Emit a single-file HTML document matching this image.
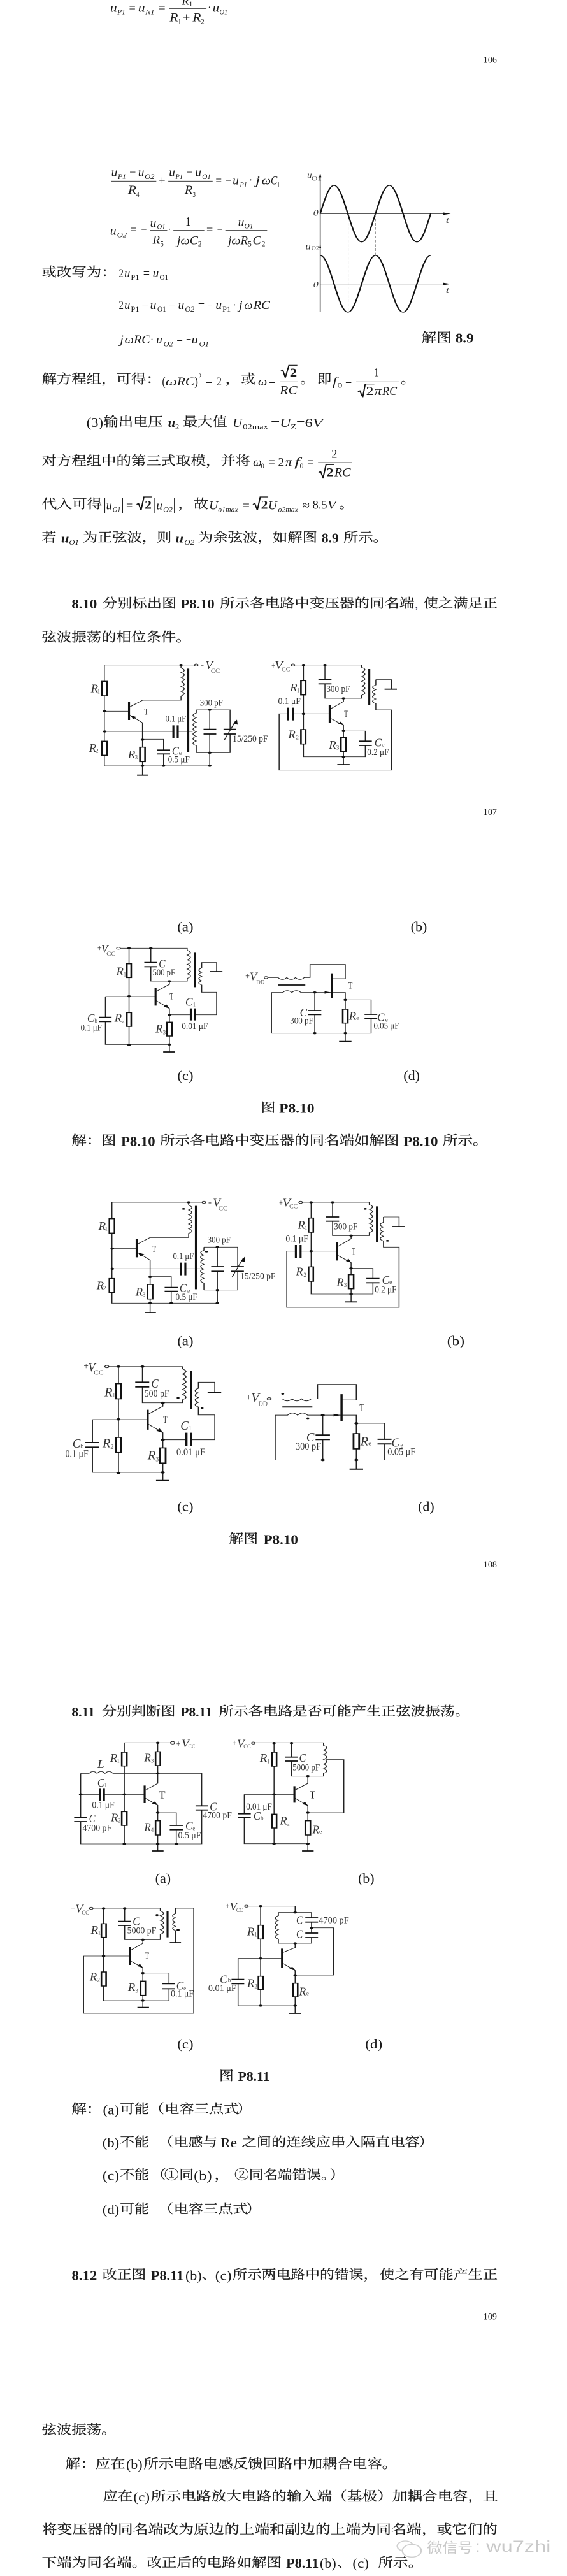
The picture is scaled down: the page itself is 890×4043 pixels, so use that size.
<!DOCTYPE html>
<html lang="zh"><head><meta charset="utf-8"><title>8.10-8.12</title>
<style>
html,body{margin:0;padding:0;background:#fff;width:890px;height:4043px;overflow:hidden}
svg{display:block}
text{font-family:"Liberation Serif","Noto Serif CJK SC",serif;fill:#1a1a1a}
.c{font-size:60px;font-family:"Liberation Serif","Noto Serif CJK SC",serif;stroke:#1a1a1a;stroke-width:.7}
.i{font-size:58px;font-style:italic}
.bi{font-size:58px;font-style:italic;font-weight:bold}
.s{font-size:34px;font-style:italic}
.n{font-size:34px}
.b{font-size:64px;font-weight:bold}
.r{font-size:62px}
.m{font-size:58px}
.p{font-size:44px}
.l{font-size:44px;fill:#333}
.L{font-size:54px;font-style:italic;fill:#333}
.u{font-size:28px;fill:#555}
.w{stroke:#222;stroke-width:2.6;fill:none}
.k{stroke:#111;stroke-width:5.5;fill:none}
.z{stroke:#111;stroke-width:4.5;fill:#fff}
.f{fill:#111;stroke:none}
.q{font-size:60px;font-family:"Liberation Sans","Noto Sans CJK SC",sans-serif;fill:#c9c9c9}
</style></head><body>
<svg xmlns="http://www.w3.org/2000/svg" width="890" height="4043" viewBox="0 0 1560 12129" preserveAspectRatio="none">
<defs>
<g id="ca">
<path class="w" d="M287,71H535M287,71V148M287,216V430M287,496V546H577M288,289H355M498,71V85q18,11 0,22q18,11 0,22q18,11 0,22q18,11 0,22q18,11 0,22q18,11 0,22V237H392L355,270M355,305L392,343V458M392,526V590M392,421H450V472M450,490V546M288,384H477M489,384H530M577,282V374M577,396V546M540,282H633V374M633,396V484H540M540,282v15q-18,11 0,22q-18,11 0,22q-18,11 0,22q-18,11 0,22q-18,11 0,22q-18,11 0,22q-18,11 0,22V484"/>
<path class="k" d="M355,245V330M518,88V480M377,590H408M432,472H468M432,490H468M477,355V415M489,355V415M560,374H595M560,396H595M615,374H650M615,396H650"/>
<path class="w" d="M617,425L648,335"/><path class="f" d="M652,328L654,352L642,348ZM358,307L376,316L366,326Z"/>
<rect class="z" x="280" y="148" width="14" height="68"/><rect class="z" x="280" y="430" width="14" height="66"/><rect class="z" x="385" y="458" width="14" height="68"/>
<circle cx="540" cy="71" r="5" fill="#fff" stroke="#222" stroke-width="2.5"/>
<g class="f"><circle cx="498" cy="71" r="5"/><circle cx="288" cy="289" r="5"/><circle cx="288" cy="384" r="5"/><circle cx="392" cy="423" r="5"/><circle cx="392" cy="546" r="5"/><circle cx="450" cy="546" r="5"/><circle cx="577" cy="546" r="5"/><circle cx="577" cy="282" r="5"/><circle cx="577" cy="484" r="5"/></g>
</g>
<g id="cb">
<path class="w" d="M811,71H995V82q18,11 0,22q18,11 0,22q18,11 0,22q18,11 0,22q18,11 0,22q18,11 0,22V228H894V160M894,140V71M835,71V145M835,212V375M835,443V503H1005V450M1005,430V382H945M1034,140H1077V185M1034,140V165q-18,11 0,22q-18,11 0,22q-18,11 0,22q-18,11 0,22V282H1077V566H768V301H793M806,301H907M907,280L945,243V228M907,320L945,355V412M945,478V540"/>
<path class="k" d="M907,258V345M1016,90V258M1058,185H1092M876,140H912M876,160H912M793,272V332M806,272V332M987,430H1023M987,450H1023M928,540H962"/>
<path class="f" d="M946,356L930,347L938,337Z"/>
<rect class="z" x="828" y="145" width="13" height="67"/><rect class="z" x="828" y="375" width="13" height="68"/><rect class="z" x="938" y="412" width="14" height="66"/>
<circle cx="806" cy="71" r="5" fill="#fff" stroke="#222" stroke-width="2.5"/>
<g class="f"><circle cx="835" cy="71" r="5"/><circle cx="894" cy="71" r="5"/><circle cx="835" cy="301" r="5"/><circle cx="945" cy="228" r="5"/><circle cx="945" cy="382" r="5"/><circle cx="945" cy="503" r="5"/></g>
</g>
<g id="cc">
<path class="w" d="M331,385H515V395q18,11 0,22q18,11 0,22q18,11 0,22q18,11 0,22q18,11 0,22q18,11 0,22V540H415V472M415,452V385M355,385V458M355,523V688M355,753V840M290,612H428M290,612V710M290,730V838H466M428,590L466,555V540M428,630L466,668V733M466,798V873M466,698H525M537,698H596V592H555V558q-16,-10 0,-20q-16,-10 0,-20q-16,-10 0,-20q-16,-10 0,-20V452H596V495"/>
<path class="k" d="M428,570V655M537,403V568M578,495H612M397,452H432M397,472H432M272,710H307M272,730H307M525,668V725M537,668V725M449,873H482"/>
<path class="f" d="M467,669L450,660L458,650Z"/>
<rect class="z" x="349" y="458" width="12" height="65"/><rect class="z" x="349" y="688" width="12" height="65"/><rect class="z" x="459" y="733" width="14" height="65"/>
<circle cx="326" cy="385" r="5" fill="#fff" stroke="#222" stroke-width="2.5"/>
<g class="f"><circle cx="355" cy="385" r="5"/><circle cx="415" cy="385" r="5"/><circle cx="466" cy="540" r="5"/><circle cx="355" cy="611" r="5"/><circle cx="466" cy="698" r="5"/><circle cx="355" cy="840" r="5"/><circle cx="466" cy="838" r="5"/></g>
</g>
<g id="cd">
<path class="w" d="M737,523H765q12,18 24,0q12,18 24,0q12,18 24,0H853V461H950V528H913M747,785V593H778q12,-18 25,0q12,-18 25,0H950V672M950,737V824M950,628H1021V696M1021,716V785H747M866,593V678M866,697V785"/>
<path class="k" d="M913,503V618M765,558H840M933,824H967M848,678H884M848,697H884M1003,696H1038M1003,716H1038"/>
<path class="f" d="M893,587L911,593L893,599Z"/>
<rect class="z" x="943" y="672" width="14" height="65"/>
<circle cx="732" cy="523" r="5" fill="#fff" stroke="#222" stroke-width="2.5"/>
<g class="f"><circle cx="866" cy="593" r="5"/><circle cx="950" cy="628" r="5"/><circle cx="866" cy="785" r="5"/><circle cx="950" cy="785" r="5"/></g>
</g>
</defs>

<!-- crop 1 -->
<g>
<text x="303" y="55" textLength="19" lengthAdjust="spacingAndGlyphs" class="i">u</text>
<text x="323" y="68" textLength="22" lengthAdjust="spacingAndGlyphs" class="s">P1</text>
<text x="355" y="55" textLength="18" lengthAdjust="spacingAndGlyphs" class="m">=</text>
<text x="380" y="55" textLength="19" lengthAdjust="spacingAndGlyphs" class="i">u</text>
<text x="400" y="68" textLength="25" lengthAdjust="spacingAndGlyphs" class="s">N1</text>
<text x="436" y="55" textLength="19" lengthAdjust="spacingAndGlyphs" class="m">=</text>
<path class="w" d="M465,40H568M305,853H430M463,853H585"/>
<text x="500" y="22" textLength="20" lengthAdjust="spacingAndGlyphs" class="i">R</text>
<text x="520" y="30" textLength="10" lengthAdjust="spacingAndGlyphs" class="n">1</text>
<text x="467" y="100" textLength="23" lengthAdjust="spacingAndGlyphs" class="i">R</text>
<text x="490" y="112" textLength="8" lengthAdjust="spacingAndGlyphs" class="n">1</text>
<text x="503" y="100" textLength="20" lengthAdjust="spacingAndGlyphs" class="m">+</text>
<text x="530" y="100" textLength="23" lengthAdjust="spacingAndGlyphs" class="i">R</text>
<text x="553" y="112" textLength="9" lengthAdjust="spacingAndGlyphs" class="n">2</text>
<text x="572" y="52" textLength="8" lengthAdjust="spacingAndGlyphs" class="m">·</text>
<text x="585" y="55" textLength="18" lengthAdjust="spacingAndGlyphs" class="i">u</text>
<text x="604" y="68" textLength="22" lengthAdjust="spacingAndGlyphs" class="s">O1</text>
<text x="1330" y="295" textLength="37" lengthAdjust="spacingAndGlyphs" class="p">106</text>

<text x="306" y="830" textLength="17" lengthAdjust="spacingAndGlyphs" class="i">u</text>
<text x="324" y="843" textLength="23" lengthAdjust="spacingAndGlyphs" class="s">P1</text>
<text x="356" y="830" textLength="18" lengthAdjust="spacingAndGlyphs" class="m">−</text>
<text x="380" y="830" textLength="17" lengthAdjust="spacingAndGlyphs" class="i">u</text>
<text x="398" y="843" textLength="27" lengthAdjust="spacingAndGlyphs" class="s">O2</text>
<text x="352" y="912" textLength="23" lengthAdjust="spacingAndGlyphs" class="i">R</text>
<text x="375" y="927" textLength="8" lengthAdjust="spacingAndGlyphs" class="n">4</text>
<text x="437" y="868" textLength="18" lengthAdjust="spacingAndGlyphs" class="m">+</text>
<text x="465" y="830" textLength="17" lengthAdjust="spacingAndGlyphs" class="i">u</text>
<text x="483" y="843" textLength="20" lengthAdjust="spacingAndGlyphs" class="s">P1</text>
<text x="512" y="830" textLength="18" lengthAdjust="spacingAndGlyphs" class="m">−</text>
<text x="537" y="830" textLength="17" lengthAdjust="spacingAndGlyphs" class="i">u</text>
<text x="556" y="843" textLength="24" lengthAdjust="spacingAndGlyphs" class="s">O1</text>
<text x="508" y="912" textLength="22" lengthAdjust="spacingAndGlyphs" class="i">R</text>
<text x="530" y="927" textLength="8" lengthAdjust="spacingAndGlyphs" class="n">3</text>
<text x="593" y="868" textLength="17" lengthAdjust="spacingAndGlyphs" class="m">=</text>
<text x="620" y="868" textLength="17" lengthAdjust="spacingAndGlyphs" class="m">−</text>
<text x="640" y="868" textLength="17" lengthAdjust="spacingAndGlyphs" class="i">u</text>
<text x="660" y="880" textLength="20" lengthAdjust="spacingAndGlyphs" class="s">P1</text>
<text x="686" y="866" textLength="8" lengthAdjust="spacingAndGlyphs" class="m">·</text>
<text x="703" y="868" textLength="12" lengthAdjust="spacingAndGlyphs" class="i">j</text>
<text x="720" y="868" textLength="25" lengthAdjust="spacingAndGlyphs" class="i">ω</text>
<text x="745" y="868" textLength="18" lengthAdjust="spacingAndGlyphs" class="i">C</text>
<text x="762" y="880" textLength="8" lengthAdjust="spacingAndGlyphs" class="n">1</text>

<text x="845" y="838" textLength="13" lengthAdjust="spacingAndGlyphs" class="L" style="font-size:44px">u</text>
<text x="857" y="850" textLength="28" lengthAdjust="spacingAndGlyphs" class="u">O1</text>
<text x="862" y="1016" textLength="14" lengthAdjust="spacingAndGlyphs" class="L" style="font-size:40px">0</text>
<path class="w" d="M881,820V1470M881,1006H1225M881,1337H1225"/>
<path class="f" d="M881,815L884,835H878ZM1219,1000L1240,1006L1219,1012ZM1219,1331L1240,1337L1219,1343ZM881,1148L884,1170H878Z"/>
<path d="M881,1006c12.7,-69.6 24.2,-133 38,-133c13.8,0 25.3,63.4 38,133c12.7,69.6 24.2,133 38,133c13.8,0 25.3,-63.4 38,-133c12.7,-69.6 24.2,-133 38,-133c13.8,0 25.3,63.4 38,133c12.7,69.6 24.2,133 38,133c13.8,0 25.3,-63.4 38,-133" fill="none" stroke="#111" stroke-width="4"/>
<path d="M881,1203c13.8,0 25.3,63.4 38,134c12.7,69.6 24.2,133 38,133c13.8,0 25.3,-63.4 38,-133c12.7,-69.6 24.2,-134 38,-134c13.8,0 25.3,63.4 38,134c12.7,69.6 24.2,133 38,133c13.8,0 25.3,-63.4 38,-133c12.7,-69.6 24.2,-134 38,-134" fill="none" stroke="#111" stroke-width="4"/>
<path d="M958,1010V1470M1033,1010V1203" stroke="#888" stroke-width="1.8" stroke-dasharray="12 8" fill="none"/>
</g>

<!-- crop 2 -->
<g transform="translate(0,1020)">
<text x="1226" y="30" textLength="10" lengthAdjust="spacingAndGlyphs" class="L" style="font-size:40px">t</text>
<text x="303" y="85" textLength="17" lengthAdjust="spacingAndGlyphs" class="i">u</text>
<text x="322" y="97" textLength="27" lengthAdjust="spacingAndGlyphs" class="s">O2</text>
<text x="358" y="80" textLength="18" lengthAdjust="spacingAndGlyphs" class="m">=</text>
<text x="388" y="80" textLength="16" lengthAdjust="spacingAndGlyphs" class="m">−</text>
<path class="w" d="M413,65H460M477,65H562M620,65H735"/>
<text x="413" y="48" textLength="17" lengthAdjust="spacingAndGlyphs" class="i">u</text>
<text x="432" y="58" textLength="23" lengthAdjust="spacingAndGlyphs" class="s">O1</text>
<text x="420" y="128" textLength="20" lengthAdjust="spacingAndGlyphs" class="i">R</text>
<text x="441" y="140" textLength="9" lengthAdjust="spacingAndGlyphs" class="n">5</text>
<text x="462" y="78" textLength="8" lengthAdjust="spacingAndGlyphs" class="m">·</text>
<text x="510" y="42" textLength="15" lengthAdjust="spacingAndGlyphs" class="b" style="font-size:60px;font-weight:normal">1</text>
<text x="487" y="130" textLength="10" lengthAdjust="spacingAndGlyphs" class="i">j</text>
<text x="497" y="130" textLength="25" lengthAdjust="spacingAndGlyphs" class="i">ω</text>
<text x="522" y="130" textLength="23" lengthAdjust="spacingAndGlyphs" class="i">C</text>
<text x="545" y="140" textLength="10" lengthAdjust="spacingAndGlyphs" class="n">2</text>
<text x="568" y="80" textLength="18" lengthAdjust="spacingAndGlyphs" class="m">=</text>
<text x="597" y="80" textLength="16" lengthAdjust="spacingAndGlyphs" class="m">−</text>
<text x="655" y="45" textLength="17" lengthAdjust="spacingAndGlyphs" class="i">u</text>
<text x="672" y="55" textLength="25" lengthAdjust="spacingAndGlyphs" class="s">O1</text>
<text x="628" y="130" textLength="9" lengthAdjust="spacingAndGlyphs" class="i">j</text>
<text x="637" y="130" textLength="25" lengthAdjust="spacingAndGlyphs" class="i">ω</text>
<text x="662" y="130" textLength="20" lengthAdjust="spacingAndGlyphs" class="i">R</text>
<text x="682" y="140" textLength="10" lengthAdjust="spacingAndGlyphs" class="n">5</text>
<text x="695" y="130" textLength="23" lengthAdjust="spacingAndGlyphs" class="i">C</text>
<text x="720" y="140" textLength="10" lengthAdjust="spacingAndGlyphs" class="n">2</text>
<text x="840" y="155" textLength="15" lengthAdjust="spacingAndGlyphs" class="L" style="font-size:44px">u</text>
<text x="857" y="157" textLength="21" lengthAdjust="spacingAndGlyphs" class="u">O2</text>
<text x="862" y="333" textLength="14" lengthAdjust="spacingAndGlyphs" class="L" style="font-size:40px">0</text>
<text x="1226" y="360" textLength="10" lengthAdjust="spacingAndGlyphs" class="L" style="font-size:40px">t</text>

<text x="115" y="280" textLength="205" lengthAdjust="spacingAndGlyphs" class="c">或改写为：</text>
<text x="327" y="285" textLength="13" lengthAdjust="spacingAndGlyphs" class="m">2</text>
<text x="342" y="285" textLength="16" lengthAdjust="spacingAndGlyphs" class="i">u</text>
<text x="360" y="297" textLength="23" lengthAdjust="spacingAndGlyphs" class="n">P1</text>
<text x="394" y="285" textLength="18" lengthAdjust="spacingAndGlyphs" class="m">=</text>
<text x="420" y="285" textLength="17" lengthAdjust="spacingAndGlyphs" class="i">u</text>
<text x="439" y="297" textLength="24" lengthAdjust="spacingAndGlyphs" class="n">O1</text>

<text x="327" y="435" textLength="13" lengthAdjust="spacingAndGlyphs" class="m">2</text>
<text x="342" y="435" textLength="16" lengthAdjust="spacingAndGlyphs" class="i">u</text>
<text x="360" y="447" textLength="23" lengthAdjust="spacingAndGlyphs" class="n">P1</text>
<text x="390" y="435" textLength="18" lengthAdjust="spacingAndGlyphs" class="m">−</text>
<text x="413" y="435" textLength="17" lengthAdjust="spacingAndGlyphs" class="i">u</text>
<text x="433" y="447" textLength="24" lengthAdjust="spacingAndGlyphs" class="n">O1</text>
<text x="465" y="435" textLength="18" lengthAdjust="spacingAndGlyphs" class="m">−</text>
<text x="490" y="435" textLength="17" lengthAdjust="spacingAndGlyphs" class="i">u</text>
<text x="509" y="447" textLength="26" lengthAdjust="spacingAndGlyphs" class="s">O2</text>
<text x="545" y="435" textLength="18" lengthAdjust="spacingAndGlyphs" class="m">=</text>
<text x="570" y="435" textLength="15" lengthAdjust="spacingAndGlyphs" class="m">−</text>
<text x="593" y="435" textLength="17" lengthAdjust="spacingAndGlyphs" class="i">u</text>
<text x="612" y="447" textLength="23" lengthAdjust="spacingAndGlyphs" class="n">P1</text>
<text x="641" y="433" textLength="8" lengthAdjust="spacingAndGlyphs" class="m">·</text>
<text x="657" y="435" textLength="10" lengthAdjust="spacingAndGlyphs" class="i">j</text>
<text x="672" y="435" textLength="23" lengthAdjust="spacingAndGlyphs" class="i">ω</text>
<text x="697" y="435" textLength="46" lengthAdjust="spacingAndGlyphs" class="i">RC</text>

<text x="330" y="597" textLength="10" lengthAdjust="spacingAndGlyphs" class="i">j</text>
<text x="343" y="597" textLength="25" lengthAdjust="spacingAndGlyphs" class="i">ω</text>
<text x="368" y="597" textLength="45" lengthAdjust="spacingAndGlyphs" class="i">RC</text>
<text x="414" y="595" textLength="8" lengthAdjust="spacingAndGlyphs" class="m">·</text>
<text x="430" y="597" textLength="17" lengthAdjust="spacingAndGlyphs" class="i">u</text>
<text x="450" y="610" textLength="26" lengthAdjust="spacingAndGlyphs" class="s">O2</text>
<text x="486" y="597" textLength="17" lengthAdjust="spacingAndGlyphs" class="m">=</text>
<text x="512" y="597" textLength="14" lengthAdjust="spacingAndGlyphs" class="m">−</text>
<text x="527" y="597" textLength="18" lengthAdjust="spacingAndGlyphs" class="i">u</text>
<text x="548" y="610" textLength="27" lengthAdjust="spacingAndGlyphs" class="s">O1</text>

<text x="1160" y="590" textLength="82" lengthAdjust="spacingAndGlyphs" class="c">解图</text>
<text x="1253" y="593" textLength="50" lengthAdjust="spacingAndGlyphs" class="b">8.9</text>

<text x="115" y="785" textLength="328" lengthAdjust="spacingAndGlyphs" class="c">解方程组，可得：</text>
<text x="446" y="795" textLength="9" lengthAdjust="spacingAndGlyphs" class="m">(</text>
<text x="455" y="795" textLength="32" lengthAdjust="spacingAndGlyphs" class="i">ω</text>
<text x="487" y="795" textLength="48" lengthAdjust="spacingAndGlyphs" class="i">RC</text>
<text x="535" y="795" textLength="10" lengthAdjust="spacingAndGlyphs" class="m">)</text>
<text x="546" y="762" textLength="8" lengthAdjust="spacingAndGlyphs" class="n">2</text>
<text x="565" y="795" textLength="20" lengthAdjust="spacingAndGlyphs" class="m">=</text>
<text x="595" y="795" textLength="15" lengthAdjust="spacingAndGlyphs" class="m">2</text>
<text x="620" y="785" textLength="40" lengthAdjust="spacingAndGlyphs" class="c">，</text>
<text x="663" y="785" textLength="40" lengthAdjust="spacingAndGlyphs" class="c">或</text>
<text x="710" y="795" textLength="25" lengthAdjust="spacingAndGlyphs" class="i">ω</text>
<text x="740" y="795" textLength="18" lengthAdjust="spacingAndGlyphs" class="m">=</text>
<path d="M772,728L778,722L785,758L795,700H818" fill="none" stroke="#111" stroke-width="3.5"/>
<text x="797" y="753" textLength="20" lengthAdjust="spacingAndGlyphs" class="b" style="font-size:58px">2</text>
<path class="w" d="M770,778H820M980,778H1097"/>
<text x="770" y="835" textLength="48" lengthAdjust="spacingAndGlyphs" class="i">RC</text>
<text x="826" y="785" textLength="40" lengthAdjust="spacingAndGlyphs" class="c">。</text>
<text x="872" y="785" textLength="40" lengthAdjust="spacingAndGlyphs" class="c">即</text>
<text x="915" y="795" textLength="12" lengthAdjust="spacingAndGlyphs" class="i">f</text>
<text x="928" y="805" textLength="14" lengthAdjust="spacingAndGlyphs" class="n">0</text>
<text x="950" y="795" textLength="18" lengthAdjust="spacingAndGlyphs" class="m">=</text>
<text x="1028" y="752" textLength="15" lengthAdjust="spacingAndGlyphs" class="m">1</text>
<path d="M985,825L990,820L998,850L1005,788H1030" fill="none" stroke="#111" stroke-width="3.5"/>
<text x="1007" y="840" textLength="21" lengthAdjust="spacingAndGlyphs" class="m">2</text>
<text x="1030" y="840" textLength="20" lengthAdjust="spacingAndGlyphs" class="i">π</text>
<text x="1052" y="840" textLength="40" lengthAdjust="spacingAndGlyphs" class="i">RC</text>
<text x="1102" y="785" textLength="40" lengthAdjust="spacingAndGlyphs" class="c">。</text>

<text x="238" y="990" textLength="46" lengthAdjust="spacingAndGlyphs" class="r">(3)</text>
<text x="285" y="985" textLength="163" lengthAdjust="spacingAndGlyphs" class="c">输出电压</text>
<text x="462" y="990" textLength="20" lengthAdjust="spacingAndGlyphs" class="bi">u</text>
<text x="482" y="1000" textLength="11" lengthAdjust="spacingAndGlyphs" class="n">2</text>
<text x="503" y="985" textLength="122" lengthAdjust="spacingAndGlyphs" class="c">最大值</text>
<text x="640" y="990" textLength="26" lengthAdjust="spacingAndGlyphs" class="i">U</text>
<text x="668" y="1000" textLength="70" lengthAdjust="spacingAndGlyphs" class="n">02max</text>
<text x="745" y="990" textLength="25" lengthAdjust="spacingAndGlyphs" class="m">=</text>
<text x="770" y="990" textLength="30" lengthAdjust="spacingAndGlyphs" class="i">U</text>
<text x="800" y="1000" textLength="15" lengthAdjust="spacingAndGlyphs" class="n">Z</text>
<text x="815" y="990" textLength="45" lengthAdjust="spacingAndGlyphs" class="m">=6</text>
<text x="860" y="990" textLength="28" lengthAdjust="spacingAndGlyphs" class="i">V</text>
</g>

<!-- crop 3 -->
<g transform="translate(0,2040)">
<text x="115" y="150" textLength="574" lengthAdjust="spacingAndGlyphs" class="c">对方程组中的第三式取模，并将</text>
<text x="696" y="155" textLength="24" lengthAdjust="spacingAndGlyphs" class="i">ω</text>
<text x="718" y="165" textLength="9" lengthAdjust="spacingAndGlyphs" class="n">0</text>
<text x="738" y="155" textLength="19" lengthAdjust="spacingAndGlyphs" class="m">=</text>
<text x="765" y="155" textLength="17" lengthAdjust="spacingAndGlyphs" class="m">2</text>
<text x="785" y="155" textLength="18" lengthAdjust="spacingAndGlyphs" class="i">π</text>
<text x="810" y="155" textLength="15" lengthAdjust="spacingAndGlyphs" class="i">f</text>
<text x="825" y="165" textLength="10" lengthAdjust="spacingAndGlyphs" class="n">0</text>
<text x="845" y="155" textLength="17" lengthAdjust="spacingAndGlyphs" class="m">=</text>
<text x="912" y="115" textLength="16" lengthAdjust="spacingAndGlyphs" class="m">2</text>
<path class="w" d="M875,138H968"/>
<path d="M877,185L882,180L889,210L897,148H920" fill="none" stroke="#111" stroke-width="3.5"/>
<text x="898" y="203" textLength="20" lengthAdjust="spacingAndGlyphs" class="b" style="font-size:58px">2</text>
<text x="920" y="203" textLength="45" lengthAdjust="spacingAndGlyphs" class="i">RC</text>

<text x="115" y="353" textLength="166" lengthAdjust="spacingAndGlyphs" class="c">代入可得</text>
<path class="w" d="M288,305V375M337,305V375M424,305V375M480,305V375"/>
<text x="292" y="358" textLength="16" lengthAdjust="spacingAndGlyphs" class="i">u</text>
<text x="310" y="370" textLength="22" lengthAdjust="spacingAndGlyphs" class="s">O1</text>
<text x="347" y="358" textLength="18" lengthAdjust="spacingAndGlyphs" class="m">=</text>
<path d="M376,335L381,330L388,362L396,300H418" fill="none" stroke="#111" stroke-width="3.5"/>
<text x="398" y="355" textLength="19" lengthAdjust="spacingAndGlyphs" class="b" style="font-size:58px">2</text>
<text x="430" y="358" textLength="17" lengthAdjust="spacingAndGlyphs" class="i">u</text>
<text x="449" y="370" textLength="26" lengthAdjust="spacingAndGlyphs" class="s">O2</text>
<text x="490" y="353" textLength="40" lengthAdjust="spacingAndGlyphs" class="c">，</text>
<text x="533" y="353" textLength="40" lengthAdjust="spacingAndGlyphs" class="c">故</text>
<text x="575" y="358" textLength="25" lengthAdjust="spacingAndGlyphs" class="i">U</text>
<text x="600" y="370" textLength="55" lengthAdjust="spacingAndGlyphs" class="s">o1max</text>
<text x="667" y="358" textLength="20" lengthAdjust="spacingAndGlyphs" class="m">=</text>
<path d="M696,335L701,330L708,362L716,300H738" fill="none" stroke="#111" stroke-width="3.5"/>
<text x="718" y="355" textLength="19" lengthAdjust="spacingAndGlyphs" class="b" style="font-size:58px">2</text>
<text x="738" y="358" textLength="24" lengthAdjust="spacingAndGlyphs" class="i">U</text>
<text x="765" y="370" textLength="55" lengthAdjust="spacingAndGlyphs" class="s">o2max</text>
<text x="832" y="358" textLength="20" lengthAdjust="spacingAndGlyphs" class="m">≈</text>
<text x="860" y="355" textLength="40" lengthAdjust="spacingAndGlyphs" class="m">8.5</text>
<text x="900" y="355" textLength="25" lengthAdjust="spacingAndGlyphs" class="i">V</text>
<text x="933" y="353" textLength="40" lengthAdjust="spacingAndGlyphs" class="c">。</text>

<text x="115" y="510" textLength="40" lengthAdjust="spacingAndGlyphs" class="c">若</text>
<text x="168" y="515" textLength="22" lengthAdjust="spacingAndGlyphs" class="bi">u</text>
<text x="190" y="525" textLength="27" lengthAdjust="spacingAndGlyphs" class="s">O1</text>
<text x="228" y="510" textLength="244" lengthAdjust="spacingAndGlyphs" class="c">为正弦波，则</text>
<text x="483" y="515" textLength="22" lengthAdjust="spacingAndGlyphs" class="bi">u</text>
<text x="507" y="525" textLength="28" lengthAdjust="spacingAndGlyphs" class="s">O2</text>
<text x="545" y="510" textLength="328" lengthAdjust="spacingAndGlyphs" class="c">为余弦波，如解图</text>
<text x="885" y="515" textLength="47" lengthAdjust="spacingAndGlyphs" class="b">8.9</text>
<text x="945" y="510" textLength="122" lengthAdjust="spacingAndGlyphs" class="c">所示。</text>

<text x="197" y="825" textLength="70" lengthAdjust="spacingAndGlyphs" class="b">8.10</text>
<text x="282" y="820" textLength="204" lengthAdjust="spacingAndGlyphs" class="c">分别标出图</text>
<text x="497" y="825" textLength="93" lengthAdjust="spacingAndGlyphs" class="b">P8.10</text>
<text x="605" y="820" textLength="535" lengthAdjust="spacingAndGlyphs" class="c">所示各电路中变压器的同名端</text>
<text x="1141" y="825" textLength="10" lengthAdjust="spacingAndGlyphs" class="m" style="fill:#335">,</text>
<text x="1165" y="820" textLength="204" lengthAdjust="spacingAndGlyphs" class="c">使之满足正</text>
<text x="115" y="980" textLength="410" lengthAdjust="spacingAndGlyphs" class="c">弦波振荡的相位条件。</text>
</g>

<!-- crop 4 circuit a b -->
<g transform="translate(0,3060)">
<use href="#ca"/><use href="#cb"/>
<text x="1330" y="777" textLength="37" lengthAdjust="spacingAndGlyphs" class="p">107</text>
</g>
<g id="la" transform="translate(0,3060)">
<text x="552" y="85" textLength="9" lengthAdjust="spacingAndGlyphs" class="l">-</text>
<text x="565" y="90" textLength="20" lengthAdjust="spacingAndGlyphs" class="L">V</text>
<text x="580" y="108" textLength="25" lengthAdjust="spacingAndGlyphs" class="u">CC</text>
<text x="250" y="200" textLength="20" lengthAdjust="spacingAndGlyphs" class="L">R</text><text x="268" y="205" textLength="7" lengthAdjust="spacingAndGlyphs" class="u">1</text>
<text x="245" y="480" textLength="20" lengthAdjust="spacingAndGlyphs" class="L">R</text><text x="263" y="485" textLength="8" lengthAdjust="spacingAndGlyphs" class="u">2</text>
<text x="352" y="510" textLength="20" lengthAdjust="spacingAndGlyphs" class="L">R</text><text x="371" y="515" textLength="8" lengthAdjust="spacingAndGlyphs" class="u">3</text>
<text x="397" y="305" textLength="11" lengthAdjust="spacingAndGlyphs" class="l">T</text>
<text x="455" y="338" textLength="57" lengthAdjust="spacingAndGlyphs" class="l">0.1 μF</text>
<text x="473" y="493" textLength="19" lengthAdjust="spacingAndGlyphs" class="L">C</text><text x="492" y="495" textLength="10" lengthAdjust="spacingAndGlyphs" class="u">e</text>
<text x="462" y="530" textLength="60" lengthAdjust="spacingAndGlyphs" class="l">0.5 μF</text>
<text x="550" y="262" textLength="63" lengthAdjust="spacingAndGlyphs" class="l">300 pF</text>
<text x="640" y="432" textLength="97" lengthAdjust="spacingAndGlyphs" class="l">15/250 pF</text>
<text x="747" y="88" textLength="10" lengthAdjust="spacingAndGlyphs" class="l">+</text>
<text x="756" y="90" textLength="22" lengthAdjust="spacingAndGlyphs" class="L">V</text>
<text x="775" y="100" textLength="23" lengthAdjust="spacingAndGlyphs" class="u">CC</text>
<text x="798" y="195" textLength="20" lengthAdjust="spacingAndGlyphs" class="L">R</text><text x="817" y="200" textLength="7" lengthAdjust="spacingAndGlyphs" class="u">1</text>
<text x="793" y="415" textLength="20" lengthAdjust="spacingAndGlyphs" class="L">R</text><text x="814" y="422" textLength="8" lengthAdjust="spacingAndGlyphs" class="u">2</text>
<text x="905" y="465" textLength="20" lengthAdjust="spacingAndGlyphs" class="L">R</text><text x="925" y="470" textLength="8" lengthAdjust="spacingAndGlyphs" class="u">3</text>
<text x="947" y="315" textLength="10" lengthAdjust="spacingAndGlyphs" class="l">T</text>
<text x="765" y="255" textLength="62" lengthAdjust="spacingAndGlyphs" class="l">0.1 μF</text>
<text x="898" y="198" textLength="65" lengthAdjust="spacingAndGlyphs" class="l">300 pF</text>
<text x="1030" y="455" textLength="20" lengthAdjust="spacingAndGlyphs" class="L">C</text><text x="1050" y="455" textLength="8" lengthAdjust="spacingAndGlyphs" class="u">e</text>
<text x="1010" y="495" textLength="60" lengthAdjust="spacingAndGlyphs" class="l">0.2 μF</text>
</g>

<!-- crop 5 circuit c d -->
<g transform="translate(0,4080)">
<text x="488" y="305" textLength="44" lengthAdjust="spacingAndGlyphs" class="r">(a)</text>
<text x="1130" y="305" textLength="45" lengthAdjust="spacingAndGlyphs" class="r">(b)</text>
<use href="#cc"/><use href="#cd"/>
<text x="488" y="1005" textLength="44" lengthAdjust="spacingAndGlyphs" class="r">(c)</text>
<text x="1110" y="1005" textLength="45" lengthAdjust="spacingAndGlyphs" class="r">(d)</text>
<text x="268" y="397" textLength="12" lengthAdjust="spacingAndGlyphs" class="l">+</text>
<text x="279" y="405" textLength="18" lengthAdjust="spacingAndGlyphs" class="L">V</text><text x="293" y="420" textLength="25" lengthAdjust="spacingAndGlyphs" class="u">CC</text>
<text x="320" y="512" textLength="20" lengthAdjust="spacingAndGlyphs" class="L">R</text><text x="340" y="517" textLength="7" lengthAdjust="spacingAndGlyphs" class="u">1</text>
<text x="315" y="730" textLength="20" lengthAdjust="spacingAndGlyphs" class="L">R</text><text x="335" y="737" textLength="8" lengthAdjust="spacingAndGlyphs" class="u">2</text>
<text x="428" y="782" textLength="20" lengthAdjust="spacingAndGlyphs" class="L">R</text><text x="448" y="790" textLength="8" lengthAdjust="spacingAndGlyphs" class="u">3</text>
<text x="437" y="475" textLength="18" lengthAdjust="spacingAndGlyphs" class="L">C</text>
<text x="420" y="513" textLength="62" lengthAdjust="spacingAndGlyphs" class="l">500 pF</text>
<text x="467" y="625" textLength="10" lengthAdjust="spacingAndGlyphs" class="l">T</text>
<text x="510" y="655" textLength="20" lengthAdjust="spacingAndGlyphs" class="L">C</text><text x="531" y="658" textLength="7" lengthAdjust="spacingAndGlyphs" class="u">1</text>
<text x="500" y="765" textLength="72" lengthAdjust="spacingAndGlyphs" class="l">0.01 μF</text>
<text x="240" y="732" textLength="20" lengthAdjust="spacingAndGlyphs" class="L">C</text><text x="260" y="735" textLength="8" lengthAdjust="spacingAndGlyphs" class="u">b</text>
<text x="222" y="772" textLength="58" lengthAdjust="spacingAndGlyphs" class="l">0.1 μF</text>
<text x="675" y="530" textLength="12" lengthAdjust="spacingAndGlyphs" class="l">+</text>
<text x="687" y="535" textLength="20" lengthAdjust="spacingAndGlyphs" class="L">V</text><text x="705" y="553" textLength="23" lengthAdjust="spacingAndGlyphs" class="u">DD</text>
<text x="825" y="705" textLength="20" lengthAdjust="spacingAndGlyphs" class="L">C</text>
<text x="798" y="740" textLength="64" lengthAdjust="spacingAndGlyphs" class="l">300 pF</text>
<text x="960" y="722" textLength="20" lengthAdjust="spacingAndGlyphs" class="L">R</text><text x="980" y="722" textLength="8" lengthAdjust="spacingAndGlyphs" class="u">e</text>
<text x="958" y="575" textLength="12" lengthAdjust="spacingAndGlyphs" class="l">T</text>
<text x="1038" y="728" textLength="20" lengthAdjust="spacingAndGlyphs" class="L">C</text><text x="1060" y="730" textLength="7" lengthAdjust="spacingAndGlyphs" class="u">e</text>
<text x="1028" y="763" textLength="70" lengthAdjust="spacingAndGlyphs" class="l">0.05 μF</text>
</g>

<!-- crop 6 -->
<g transform="translate(0,5100)">
<text x="718" y="135" textLength="40" lengthAdjust="spacingAndGlyphs" class="c">图</text>
<text x="768" y="140" textLength="97" lengthAdjust="spacingAndGlyphs" class="b">P8.10</text>
<text x="197" y="290" textLength="123" lengthAdjust="spacingAndGlyphs" class="c">解：图</text>
<text x="333" y="295" textLength="94" lengthAdjust="spacingAndGlyphs" class="b">P8.10</text>
<text x="440" y="290" textLength="658" lengthAdjust="spacingAndGlyphs" class="c">所示各电路中变压器的同名端如解图</text>
<text x="1110" y="295" textLength="95" lengthAdjust="spacingAndGlyphs" class="b">P8.10</text>
<text x="1218" y="290" textLength="124" lengthAdjust="spacingAndGlyphs" class="c">所示。</text>
</g>
<g transform="translate(21,5590)">
<use href="#ca"/><use href="#cb"/>
<text x="552" y="85" textLength="9" lengthAdjust="spacingAndGlyphs" class="l">-</text>
<text x="565" y="90" textLength="20" lengthAdjust="spacingAndGlyphs" class="L">V</text>
<text x="580" y="108" textLength="25" lengthAdjust="spacingAndGlyphs" class="u">CC</text>
<text x="250" y="200" textLength="20" lengthAdjust="spacingAndGlyphs" class="L">R</text><text x="268" y="205" textLength="7" lengthAdjust="spacingAndGlyphs" class="u">1</text>
<text x="245" y="480" textLength="20" lengthAdjust="spacingAndGlyphs" class="L">R</text><text x="263" y="485" textLength="8" lengthAdjust="spacingAndGlyphs" class="u">2</text>
<text x="352" y="510" textLength="20" lengthAdjust="spacingAndGlyphs" class="L">R</text><text x="371" y="515" textLength="8" lengthAdjust="spacingAndGlyphs" class="u">3</text>
<text x="397" y="305" textLength="11" lengthAdjust="spacingAndGlyphs" class="l">T</text>
<text x="455" y="338" textLength="57" lengthAdjust="spacingAndGlyphs" class="l">0.1 μF</text>
<text x="473" y="493" textLength="19" lengthAdjust="spacingAndGlyphs" class="L">C</text><text x="492" y="495" textLength="10" lengthAdjust="spacingAndGlyphs" class="u">e</text>
<text x="462" y="530" textLength="60" lengthAdjust="spacingAndGlyphs" class="l">0.5 μF</text>
<text x="550" y="262" textLength="63" lengthAdjust="spacingAndGlyphs" class="l">300 pF</text>
<text x="640" y="432" textLength="97" lengthAdjust="spacingAndGlyphs" class="l">15/250 pF</text>
<text x="747" y="88" textLength="10" lengthAdjust="spacingAndGlyphs" class="l">+</text>
<text x="756" y="90" textLength="22" lengthAdjust="spacingAndGlyphs" class="L">V</text>
<text x="775" y="100" textLength="23" lengthAdjust="spacingAndGlyphs" class="u">CC</text>
<text x="798" y="195" textLength="20" lengthAdjust="spacingAndGlyphs" class="L">R</text><text x="817" y="200" textLength="7" lengthAdjust="spacingAndGlyphs" class="u">1</text>
<text x="793" y="415" textLength="20" lengthAdjust="spacingAndGlyphs" class="L">R</text><text x="814" y="422" textLength="8" lengthAdjust="spacingAndGlyphs" class="u">2</text>
<text x="905" y="465" textLength="20" lengthAdjust="spacingAndGlyphs" class="L">R</text><text x="925" y="470" textLength="8" lengthAdjust="spacingAndGlyphs" class="u">3</text>
<text x="947" y="315" textLength="10" lengthAdjust="spacingAndGlyphs" class="l">T</text>
<text x="765" y="255" textLength="62" lengthAdjust="spacingAndGlyphs" class="l">0.1 μF</text>
<text x="898" y="198" textLength="65" lengthAdjust="spacingAndGlyphs" class="l">300 pF</text>
<text x="1030" y="455" textLength="20" lengthAdjust="spacingAndGlyphs" class="L">C</text><text x="1050" y="455" textLength="8" lengthAdjust="spacingAndGlyphs" class="u">e</text>
<text x="1010" y="495" textLength="60" lengthAdjust="spacingAndGlyphs" class="l">0.2 μF</text>
</g>
<g class="f" transform="translate(0,5100)"><circle cx="505" cy="592" r="4"/><circle cx="568" cy="793" r="4"/><circle cx="1005" cy="592" r="4"/><circle cx="1066" cy="742" r="4"/></g>

<!-- crop 7 -->
<g transform="translate(0,6120)">
<text x="488" y="215" textLength="44" lengthAdjust="spacingAndGlyphs" class="r">(a)</text>
<text x="1230" y="215" textLength="48" lengthAdjust="spacingAndGlyphs" class="r">(b)</text>
<text x="488" y="995" textLength="44" lengthAdjust="spacingAndGlyphs" class="r">(c)</text>
<text x="1150" y="995" textLength="45" lengthAdjust="spacingAndGlyphs" class="r">(d)</text>
<g class="f"><circle cx="490" cy="462" r="4"/><circle cx="556" cy="510" r="4"/><circle cx="778" cy="443" r="4"/><circle cx="847" cy="558" r="4"/></g>
</g>
<g transform="matrix(1.1 0 0 1.1 -64.6 6011)">
<use href="#cc"/><use href="#cd"/>
<text x="268" y="397" textLength="12" lengthAdjust="spacingAndGlyphs" class="l">+</text>
<text x="279" y="405" textLength="18" lengthAdjust="spacingAndGlyphs" class="L">V</text><text x="293" y="420" textLength="25" lengthAdjust="spacingAndGlyphs" class="u">CC</text>
<text x="320" y="512" textLength="20" lengthAdjust="spacingAndGlyphs" class="L">R</text><text x="340" y="517" textLength="7" lengthAdjust="spacingAndGlyphs" class="u">1</text>
<text x="315" y="730" textLength="20" lengthAdjust="spacingAndGlyphs" class="L">R</text><text x="335" y="737" textLength="8" lengthAdjust="spacingAndGlyphs" class="u">2</text>
<text x="428" y="782" textLength="20" lengthAdjust="spacingAndGlyphs" class="L">R</text><text x="448" y="790" textLength="8" lengthAdjust="spacingAndGlyphs" class="u">3</text>
<text x="437" y="475" textLength="18" lengthAdjust="spacingAndGlyphs" class="L">C</text>
<text x="420" y="513" textLength="62" lengthAdjust="spacingAndGlyphs" class="l">500 pF</text>
<text x="467" y="625" textLength="10" lengthAdjust="spacingAndGlyphs" class="l">T</text>
<text x="510" y="655" textLength="20" lengthAdjust="spacingAndGlyphs" class="L">C</text><text x="531" y="658" textLength="7" lengthAdjust="spacingAndGlyphs" class="u">1</text>
<text x="500" y="765" textLength="72" lengthAdjust="spacingAndGlyphs" class="l">0.01 μF</text>
<text x="240" y="732" textLength="20" lengthAdjust="spacingAndGlyphs" class="L">C</text><text x="260" y="735" textLength="8" lengthAdjust="spacingAndGlyphs" class="u">b</text>
<text x="222" y="772" textLength="58" lengthAdjust="spacingAndGlyphs" class="l">0.1 μF</text>
<text x="675" y="530" textLength="12" lengthAdjust="spacingAndGlyphs" class="l">+</text>
<text x="687" y="535" textLength="20" lengthAdjust="spacingAndGlyphs" class="L">V</text><text x="705" y="553" textLength="23" lengthAdjust="spacingAndGlyphs" class="u">DD</text>
<text x="825" y="705" textLength="20" lengthAdjust="spacingAndGlyphs" class="L">C</text>
<text x="798" y="740" textLength="64" lengthAdjust="spacingAndGlyphs" class="l">300 pF</text>
<text x="960" y="722" textLength="20" lengthAdjust="spacingAndGlyphs" class="L">R</text><text x="980" y="722" textLength="8" lengthAdjust="spacingAndGlyphs" class="u">e</text>
<text x="958" y="575" textLength="12" lengthAdjust="spacingAndGlyphs" class="l">T</text>
<text x="1038" y="728" textLength="20" lengthAdjust="spacingAndGlyphs" class="L">C</text><text x="1060" y="730" textLength="7" lengthAdjust="spacingAndGlyphs" class="u">e</text>
<text x="1028" y="763" textLength="70" lengthAdjust="spacingAndGlyphs" class="l">0.05 μF</text>
</g>

<!-- crop 8 -->
<g transform="translate(0,7140)">
<text x="630" y="125" textLength="80" lengthAdjust="spacingAndGlyphs" class="c">解图</text>
<text x="725" y="130" textLength="95" lengthAdjust="spacingAndGlyphs" class="b">P8.10</text>
<text x="1330" y="240" textLength="37" lengthAdjust="spacingAndGlyphs" class="p">108</text>
<text x="197" y="942" textLength="64" lengthAdjust="spacingAndGlyphs" class="b">8.11</text>
<text x="280" y="937" textLength="203" lengthAdjust="spacingAndGlyphs" class="c">分别判断图</text>
<text x="497" y="942" textLength="86" lengthAdjust="spacingAndGlyphs" class="b">P8.11</text>
<text x="602" y="937" textLength="690" lengthAdjust="spacingAndGlyphs" class="c">所示各电路是否可能产生正弦波振荡。</text>
</g>

<!-- crop 9/10 circuits P8.11 -->
<g transform="translate(0,8160)">
<path class="w" d="M342,46H470M342,46V90M342,155V370M342,435V522M434,46V88M434,153V237L397,272M398,305L434,340V413M434,480V555M434,375H485V435M485,455V522M222,190H245q11,-18 22,0q11,-18 22,0q11,-18 22,0H555V343M555,362V522H222V417M222,397V190M222,289H275M286,289H398"/>
<path class="k" d="M398,247V330M418,555H450M467,435H503M467,455H503M538,343H573M538,362H573M204,397H240M204,417H240M275,262V318M286,262V318"/>
<path class="f" d="M435,341L418,332L426,322Z"/>
<rect class="z" x="335" y="90" width="14" height="65"/><rect class="z" x="335" y="370" width="14" height="65"/><rect class="z" x="428" y="88" width="13" height="65"/><rect class="z" x="428" y="413" width="13" height="67"/>
<circle cx="475" cy="46" r="6" fill="#fff" stroke="#222" stroke-width="2.5"/>
<g class="f"><circle cx="434" cy="46" r="5"/><circle cx="434" cy="190" r="5"/><circle cx="342" cy="289" r="5"/><circle cx="222" cy="289" r="5"/><circle cx="434" cy="375" r="5"/><circle cx="342" cy="522" r="5"/><circle cx="434" cy="522" r="5"/><circle cx="485" cy="522" r="5"/></g>
<text x="485" y="65" textLength="12" lengthAdjust="spacingAndGlyphs" class="l">+</text>
<text x="500" y="68" textLength="20" lengthAdjust="spacingAndGlyphs" class="L">V</text><text x="518" y="72" textLength="19" lengthAdjust="spacingAndGlyphs" class="u">CC</text>
<text x="303" y="135" textLength="20" lengthAdjust="spacingAndGlyphs" class="L">R</text><text x="322" y="140" textLength="7" lengthAdjust="spacingAndGlyphs" class="u">1</text>
<text x="305" y="415" textLength="20" lengthAdjust="spacingAndGlyphs" class="L">R</text><text x="324" y="422" textLength="8" lengthAdjust="spacingAndGlyphs" class="u">2</text>
<text x="397" y="133" textLength="18" lengthAdjust="spacingAndGlyphs" class="L">R</text><text x="415" y="140" textLength="8" lengthAdjust="spacingAndGlyphs" class="u">3</text>
<text x="397" y="460" textLength="18" lengthAdjust="spacingAndGlyphs" class="L">R</text><text x="415" y="465" textLength="8" lengthAdjust="spacingAndGlyphs" class="u">4</text>
<text x="510" y="455" textLength="20" lengthAdjust="spacingAndGlyphs" class="L">C</text><text x="530" y="458" textLength="7" lengthAdjust="spacingAndGlyphs" class="u">e</text>
<text x="490" y="495" textLength="63" lengthAdjust="spacingAndGlyphs" class="l">0.5 μF</text>
<text x="577" y="365" textLength="20" lengthAdjust="spacingAndGlyphs" class="L">C</text>
<text x="558" y="400" textLength="80" lengthAdjust="spacingAndGlyphs" class="l">4700 pF</text>
<text x="245" y="420" textLength="17" lengthAdjust="spacingAndGlyphs" class="L">C</text>
<text x="227" y="460" textLength="80" lengthAdjust="spacingAndGlyphs" class="l">4700 pF</text>
<text x="268" y="165" textLength="19" lengthAdjust="spacingAndGlyphs" class="L">L</text>
<text x="268" y="252" textLength="19" lengthAdjust="spacingAndGlyphs" class="L">C</text><text x="287" y="254" textLength="7" lengthAdjust="spacingAndGlyphs" class="u">1</text>
<text x="253" y="352" textLength="62" lengthAdjust="spacingAndGlyphs" class="l">0.1 μF</text>
<text x="437" y="307" textLength="18" lengthAdjust="spacingAndGlyphs" class="p" style="font-size:52px">T</text>
<text x="427" y="705" textLength="43" lengthAdjust="spacingAndGlyphs" class="r">(a)</text>
<text x="985" y="705" textLength="45" lengthAdjust="spacingAndGlyphs" class="r">(b)</text>

<path class="w" d="M702,46H890V58q18,11 0,22q18,11 0,22q18,11 0,22q18,11 0,22q18,11 0,22q18,11 0,22V203H802V132M802,113V47M754,47V90M754,156V382M754,447V521M897,125H946V375H847M810,270L847,237V203M810,305L847,342V413M847,480V555M672,289H810M672,289V380M672,397V521H847"/>
<path class="k" d="M810,250V328M785,113H820M785,132H820M655,380H690M655,397H690M831,555H863"/>
<path class="f" d="M848,343L831,334L839,324Z"/>
<rect class="z" x="748" y="90" width="13" height="66"/><rect class="z" x="748" y="382" width="13" height="65"/><rect class="z" x="840" y="413" width="14" height="67"/>
<circle cx="697" cy="47" r="5" fill="#fff" stroke="#222" stroke-width="2.5"/>
<g class="f"><circle cx="754" cy="47" r="5"/><circle cx="802" cy="47" r="5"/><circle cx="847" cy="203" r="5"/><circle cx="754" cy="289" r="5"/><circle cx="847" cy="375" r="5"/><circle cx="754" cy="521" r="5"/><circle cx="847" cy="521" r="5"/></g>
<text x="640" y="60" textLength="10" lengthAdjust="spacingAndGlyphs" class="l">+</text>
<text x="652" y="68" textLength="20" lengthAdjust="spacingAndGlyphs" class="L">V</text><text x="670" y="72" textLength="20" lengthAdjust="spacingAndGlyphs" class="u">CC</text>
<text x="715" y="135" textLength="20" lengthAdjust="spacingAndGlyphs" class="L">R</text><text x="735" y="142" textLength="7" lengthAdjust="spacingAndGlyphs" class="u">1</text>
<text x="770" y="430" textLength="20" lengthAdjust="spacingAndGlyphs" class="L">R</text><text x="789" y="437" textLength="8" lengthAdjust="spacingAndGlyphs" class="u">2</text>
<text x="860" y="472" textLength="18" lengthAdjust="spacingAndGlyphs" class="L">R</text><text x="878" y="472" textLength="8" lengthAdjust="spacingAndGlyphs" class="u">e</text>
<text x="823" y="135" textLength="19" lengthAdjust="spacingAndGlyphs" class="L">C</text>
<text x="805" y="175" textLength="75" lengthAdjust="spacingAndGlyphs" class="l">5000 pF</text>
<text x="852" y="308" textLength="16" lengthAdjust="spacingAndGlyphs" class="p" style="font-size:52px">T</text>
<text x="697" y="408" textLength="20" lengthAdjust="spacingAndGlyphs" class="L">C</text><text x="717" y="410" textLength="8" lengthAdjust="spacingAndGlyphs" class="u">b</text>
<text x="677" y="360" textLength="71" lengthAdjust="spacingAndGlyphs" class="l">0.01 μF</text>

<!-- circuit c -->
<path class="w" d="M256,825H441V838q18,11 0,22q18,11 0,22q18,11 0,22q18,11 0,22q18,11 0,22V973H343V906M343,887V825M285,825V898M285,962V1125M285,1191V1260H465V1204M465,1180V1130H393M483,825H533V1320H230V1050H357M483,825V850q-16,10 0,20q-16,10 0,20q-16,10 0,20q-16,10 0,20V987M393,973V990L357,1025M357,1072L393,1105V1168M393,1235V1292"/>
<path class="k" d="M357,1008V1092M461,840V962M467,987H498M326,887H361M326,906H361M447,1180H482M447,1204H482M378,1292H410"/>
<path class="f" d="M394,1106L377,1097L385,1087Z"/>
<rect class="z" x="279" y="898" width="13" height="64"/><rect class="z" x="279" y="1125" width="13" height="66"/><rect class="z" x="387" y="1168" width="13" height="67"/>
<circle cx="251" cy="825" r="5" fill="#fff" stroke="#222" stroke-width="2.5"/>
<g class="f"><circle cx="285" cy="825" r="5"/><circle cx="343" cy="825" r="5"/><circle cx="393" cy="973" r="5"/><circle cx="285" cy="1050" r="5"/><circle cx="393" cy="1130" r="5"/><circle cx="393" cy="1260" r="5"/><circle cx="432" cy="857" r="4.5"/><circle cx="490" cy="927" r="4.5"/></g>
<text x="195" y="838" textLength="12" lengthAdjust="spacingAndGlyphs" class="l">+</text>
<text x="207" y="845" textLength="21" lengthAdjust="spacingAndGlyphs" class="L">V</text><text x="225" y="855" textLength="20" lengthAdjust="spacingAndGlyphs" class="u">CC</text>
<text x="250" y="945" textLength="20" lengthAdjust="spacingAndGlyphs" class="L">R</text><text x="270" y="950" textLength="7" lengthAdjust="spacingAndGlyphs" class="u">1</text>
<text x="247" y="1165" textLength="20" lengthAdjust="spacingAndGlyphs" class="L">R</text><text x="267" y="1172" textLength="8" lengthAdjust="spacingAndGlyphs" class="u">2</text>
<text x="352" y="1215" textLength="20" lengthAdjust="spacingAndGlyphs" class="L">R</text><text x="372" y="1222" textLength="8" lengthAdjust="spacingAndGlyphs" class="u">3</text>
<text x="365" y="905" textLength="20" lengthAdjust="spacingAndGlyphs" class="L">C</text>
<text x="350" y="943" textLength="80" lengthAdjust="spacingAndGlyphs" class="l">5000 pF</text>
<text x="398" y="1062" textLength="12" lengthAdjust="spacingAndGlyphs" class="l">T</text>
<text x="485" y="1208" textLength="20" lengthAdjust="spacingAndGlyphs" class="L">C</text><text x="505" y="1210" textLength="7" lengthAdjust="spacingAndGlyphs" class="u">e</text>
<text x="470" y="1240" textLength="63" lengthAdjust="spacingAndGlyphs" class="l">0.1 μF</text>

<!-- circuit d -->
<path class="w" d="M683,815H812V845M717,815V905M717,970V1145M717,1207V1284M812,845H766V860q-18,11 0,22q-18,11 0,22q-18,11 0,22q-18,11 0,22q-18,11 0,22V990H857V963M857,942V890M857,870V845H812M857,917H918V1140H812M812,990V1010L776,1035M776,1082L812,1118V1178M812,1242V1320M655,1061H776M655,1061V1160M655,1180V1284H812"/>
<path class="k" d="M776,1015V1105M840,870H875M840,890H875M840,942H875M840,963H875M637,1160H672M637,1180H672M795,1320H828"/>
<path class="f" d="M813,1119L796,1110L804,1100Z"/>
<rect class="z" x="711" y="905" width="13" height="65"/><rect class="z" x="711" y="1145" width="13" height="62"/><rect class="z" x="806" y="1178" width="13" height="64"/>
<circle cx="678" cy="815" r="5" fill="#fff" stroke="#222" stroke-width="2.5"/>
<g class="f"><circle cx="717" cy="815" r="5"/><circle cx="812" cy="845" r="5"/><circle cx="857" cy="917" r="5"/><circle cx="812" cy="990" r="5"/><circle cx="717" cy="1061" r="5"/><circle cx="812" cy="1140" r="5"/><circle cx="717" cy="1284" r="5"/><circle cx="812" cy="1284" r="5"/></g>
<text x="620" y="828" textLength="12" lengthAdjust="spacingAndGlyphs" class="l">+</text>
<text x="632" y="835" textLength="20" lengthAdjust="spacingAndGlyphs" class="L">V</text><text x="650" y="843" textLength="18" lengthAdjust="spacingAndGlyphs" class="u">CC</text>
<text x="680" y="953" textLength="20" lengthAdjust="spacingAndGlyphs" class="L">R</text><text x="700" y="958" textLength="7" lengthAdjust="spacingAndGlyphs" class="u">1</text>
<text x="680" y="1195" textLength="20" lengthAdjust="spacingAndGlyphs" class="L">R</text><text x="700" y="1202" textLength="8" lengthAdjust="spacingAndGlyphs" class="u">2</text>
<text x="823" y="1235" textLength="19" lengthAdjust="spacingAndGlyphs" class="L">R</text><text x="843" y="1235" textLength="7" lengthAdjust="spacingAndGlyphs" class="u">e</text>
<text x="815" y="898" textLength="18" lengthAdjust="spacingAndGlyphs" class="L">C</text>
<text x="877" y="895" textLength="83" lengthAdjust="spacingAndGlyphs" class="l">4700 pF</text>
<text x="815" y="965" textLength="18" lengthAdjust="spacingAndGlyphs" class="L">C</text>
<text x="605" y="1178" textLength="20" lengthAdjust="spacingAndGlyphs" class="L">C</text><text x="627" y="1172" textLength="8" lengthAdjust="spacingAndGlyphs" class="u">b</text>
<text x="573" y="1215" textLength="77" lengthAdjust="spacingAndGlyphs" class="l">0.01 μF</text>
</g>

<!-- crop 10 -->
<g transform="translate(0,9180)">
<text x="488" y="465" textLength="44" lengthAdjust="spacingAndGlyphs" class="r">(c)</text>
<text x="1005" y="465" textLength="47" lengthAdjust="spacingAndGlyphs" class="r">(d)</text>
<text x="603" y="613" textLength="40" lengthAdjust="spacingAndGlyphs" class="c">图</text>
<text x="655" y="618" textLength="87" lengthAdjust="spacingAndGlyphs" class="b">P8.11</text>
<text x="197" y="770" textLength="82" lengthAdjust="spacingAndGlyphs" class="c">解：</text>
<text x="283" y="775" textLength="45" lengthAdjust="spacingAndGlyphs" class="r">(a)</text>
<text x="330" y="770" textLength="80" lengthAdjust="spacingAndGlyphs" class="c">可能</text>
<text x="412" y="770" textLength="40" lengthAdjust="spacingAndGlyphs" class="c">（</text>
<text x="453" y="770" textLength="203" lengthAdjust="spacingAndGlyphs" class="c">电容三点式</text>
<text x="652" y="770" textLength="40" lengthAdjust="spacingAndGlyphs" class="c">）</text>
<text x="282" y="930" textLength="46" lengthAdjust="spacingAndGlyphs" class="r">(b)</text>
<text x="330" y="925" textLength="80" lengthAdjust="spacingAndGlyphs" class="c">不能</text>
<text x="437" y="925" textLength="40" lengthAdjust="spacingAndGlyphs" class="c">（</text>
<text x="478" y="925" textLength="120" lengthAdjust="spacingAndGlyphs" class="c">电感与</text>
<text x="607" y="930" textLength="45" lengthAdjust="spacingAndGlyphs" class="r">Re</text>
<text x="665" y="925" textLength="490" lengthAdjust="spacingAndGlyphs" class="c">之间的连线应串入隔直电容</text>
<text x="1152" y="925" textLength="40" lengthAdjust="spacingAndGlyphs" class="c">）</text>
</g>

<!-- crop 11 -->
<g transform="translate(0,10200)">
<text x="282" y="65" textLength="46" lengthAdjust="spacingAndGlyphs" class="r">(c)</text>
<text x="330" y="60" textLength="80" lengthAdjust="spacingAndGlyphs" class="c">不能</text>
<text x="417" y="60" textLength="40" lengthAdjust="spacingAndGlyphs" class="c">（</text>
<text x="452" y="60" textLength="40" lengthAdjust="spacingAndGlyphs" class="c">①</text>
<text x="493" y="60" textLength="40" lengthAdjust="spacingAndGlyphs" class="c">同</text>
<text x="533" y="65" textLength="50" lengthAdjust="spacingAndGlyphs" class="r">(b)</text>
<text x="590" y="60" textLength="40" lengthAdjust="spacingAndGlyphs" class="c">，</text>
<text x="645" y="60" textLength="40" lengthAdjust="spacingAndGlyphs" class="c">②</text>
<text x="685" y="60" textLength="238" lengthAdjust="spacingAndGlyphs" class="c">同名端错误。</text>
<text x="907" y="60" textLength="40" lengthAdjust="spacingAndGlyphs" class="c">）</text>
<text x="282" y="225" textLength="46" lengthAdjust="spacingAndGlyphs" class="r">(d)</text>
<text x="330" y="220" textLength="80" lengthAdjust="spacingAndGlyphs" class="c">可能</text>
<text x="437" y="220" textLength="40" lengthAdjust="spacingAndGlyphs" class="c">（</text>
<text x="478" y="220" textLength="203" lengthAdjust="spacingAndGlyphs" class="c">电容三点式</text>
<text x="677" y="220" textLength="40" lengthAdjust="spacingAndGlyphs" class="c">）</text>
<text x="197" y="535" textLength="70" lengthAdjust="spacingAndGlyphs" class="b">8.12</text>
<text x="282" y="530" textLength="120" lengthAdjust="spacingAndGlyphs" class="c">改正图</text>
<text x="415" y="535" textLength="90" lengthAdjust="spacingAndGlyphs" class="b">P8.11</text>
<text x="510" y="535" textLength="45" lengthAdjust="spacingAndGlyphs" class="r">(b)</text>
<text x="555" y="530" textLength="38" lengthAdjust="spacingAndGlyphs" class="c">、</text>
<text x="592" y="535" textLength="45" lengthAdjust="spacingAndGlyphs" class="r">(c)</text>
<text x="640" y="530" textLength="400" lengthAdjust="spacingAndGlyphs" class="c">所示两电路中的错误，</text>
<text x="1045" y="530" textLength="324" lengthAdjust="spacingAndGlyphs" class="c">使之有可能产生正</text>
<text x="1330" y="722" textLength="37" lengthAdjust="spacingAndGlyphs" class="p">109</text>
</g>

<!-- crop 12 -->
<g transform="translate(0,11220)">
<text x="115" y="240" textLength="205" lengthAdjust="spacingAndGlyphs" class="c">弦波振荡。</text>
<text x="180" y="400" textLength="165" lengthAdjust="spacingAndGlyphs" class="c">解：应在</text>
<text x="347" y="405" textLength="45" lengthAdjust="spacingAndGlyphs" class="r">(b)</text>
<text x="395" y="400" textLength="697" lengthAdjust="spacingAndGlyphs" class="c">所示电路电感反馈回路中加耦合电容。</text>
<text x="283" y="553" textLength="82" lengthAdjust="spacingAndGlyphs" class="c">应在</text>
<text x="367" y="558" textLength="45" lengthAdjust="spacingAndGlyphs" class="r">(c)</text>
<text x="415" y="553" textLength="955" lengthAdjust="spacingAndGlyphs" class="c">所示电路放大电路的输入端（基极）加耦合电容，且</text>
<text x="115" y="710" textLength="1254" lengthAdjust="spacingAndGlyphs" class="c">将变压器的同名端改为原边的上端和副边的上端为同名端，或它们的</text>
<text x="115" y="865" textLength="660" lengthAdjust="spacingAndGlyphs" class="c">下端为同名端。改正后的电路如解图</text>
<text x="787" y="870" textLength="90" lengthAdjust="spacingAndGlyphs" class="b">P8.11</text>
<text x="880" y="870" textLength="45" lengthAdjust="spacingAndGlyphs" class="r">(b)</text>
<text x="928" y="865" textLength="40" lengthAdjust="spacingAndGlyphs" class="c">、</text>
<text x="970" y="870" textLength="45" lengthAdjust="spacingAndGlyphs" class="r">(c)</text>
<text x="1040" y="865" textLength="124" lengthAdjust="spacingAndGlyphs" class="c">所示。</text>
<ellipse cx="1115" cy="768" rx="22" ry="24" fill="none" stroke="#cfcfcf" stroke-width="4"/>
<ellipse cx="1133" cy="790" rx="26" ry="30" fill="#fff" stroke="#cfcfcf" stroke-width="4"/>
<text x="1175" y="800" textLength="126" lengthAdjust="spacingAndGlyphs" class="q" style="font-size:66px">微信号</text>
<text x="1306" y="795" textLength="209" lengthAdjust="spacingAndGlyphs" class="q" style="font-size:76px">: wu7zhi</text>
</g>
</svg>
</body></html>
